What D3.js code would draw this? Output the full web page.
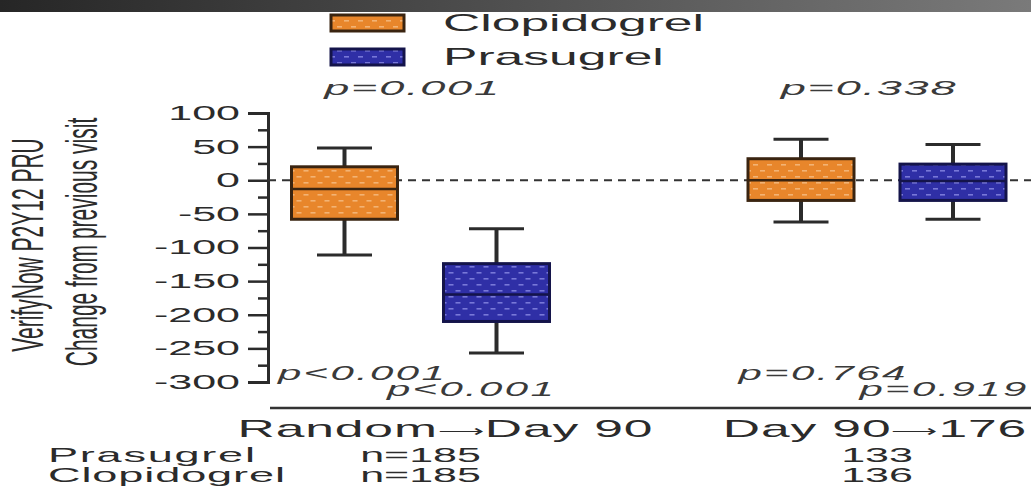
<!DOCTYPE html>
<html>
<head>
<meta charset="utf-8">
<script src="https://cdn.jsdelivr.net/npm/d3@7"></script>
<style>
  html, body { margin: 0; padding: 0; background: #fff; }
  svg { display: block; font-family: 'Liberation Sans', Arial, sans-serif; }
</style>
</head>
<body>
<div id="chart"></div>
<script>
// data
const groups = ['Random\u27F6Day 90', 'Day 90\u27F6176'];
const seriesNames = ['Clopidogrel', 'Prasugrel'];

const clopMin = [-111, -62];
const clopQ1 = [-58, -30];
const clopMedian = [-13, 0];
const clopQ3 = [20, 32];
const clopMax = [48, 61];

const prasMin = [-257, -58];
const prasQ1 = [-210, -30];
const prasMedian = [-170, -1];
const prasQ3 = [-124, 24];
const prasMax = [-72, 53];

const pBetween = ['p=0.001', 'p=0.338'];
const pClopWithin = ['p<0.001', 'p=0.764'];
const pPrasWithin = ['p<0.001', 'p=0.919'];

const nPrasugrel = ['n=185', '133'];
const nClopidogrel = ['n=185', '136'];

const yTicks = [100, 50, 0, -50, -100, -150, -200, -250, -300];
const yTitle = ['VerifyNow P2Y12 PRU', 'Change from previous visit'];

const width = 1031;
const height = 491;
const sx = 2.15; // the picture is stretched sideways
const ink = '#2b2b2b';

const svg = d3.select('#chart')
  .append('svg')
  .attr('width', width)
  .attr('height', height);

const defs = svg.append('defs');

// top bar gradient
const grad = defs.append('linearGradient').attr('id', 'topbar');
grad.append('stop').attr('offset', '0%').attr('stop-color', '#262626');
grad.append('stop').attr('offset', '100%').attr('stop-color', '#7a7a7a');
svg.append('rect')
  .attr('x', 0).attr('y', 0)
  .attr('width', width).attr('height', 12)
  .attr('fill', 'url(#topbar)');

// dotted fills
function dotPattern(id, base, dot) {
  const p = defs.append('pattern')
    .attr('id', id)
    .attr('patternUnits', 'userSpaceOnUse')
    .attr('width', 14).attr('height', 12);
  p.append('rect').attr('width', 14).attr('height', 12).attr('fill', base);
  p.append('rect').attr('x', 1).attr('y', 2).attr('width', 5).attr('height', 1.6).attr('fill', dot);
  p.append('rect').attr('x', 8).attr('y', 8).attr('width', 5).attr('height', 1.6).attr('fill', dot);
}
dotPattern('fillClop', '#e8862b', '#f3b374');
dotPattern('fillPras', '#2f2fa6', '#7878d8');

const fills = { Clopidogrel: 'url(#fillClop)', Prasugrel: 'url(#fillPras)' };
const borders = { Clopidogrel: '#3a2410', Prasugrel: '#14144a' };

// scales
const y = d3.scaleLinear().domain([-300, 100]).range([382, 113]);
const xGroup = d3.scalePoint().domain(groups).range([420.5, 877]);
const xSeries = d3.scalePoint().domain(seriesNames).range([-76, 76]);
const boxW = 106;
const capW = 55;

function stretched(x, yy, str, size, anchor, opts = {}) {
  return svg.append('text')
    .attr('transform', `translate(${x},${yy}) scale(${sx},1)`)
    .attr('text-anchor', anchor)
    .attr('font-size', size)
    .attr('letter-spacing', opts.spacing || 0)
    .attr('font-style', opts.italic ? 'italic' : 'normal')
    .attr('fill', opts.color || ink)
    .text(str);
}

// y axis
const axisX = 268;
const yAxis = svg.append('g')
  .attr('transform', `translate(${axisX},0)`)
  .call(d3.axisLeft(y).tickValues(yTicks).tickSize(20).tickPadding(0).tickFormat(d => String(d)));
yAxis.select('.domain').attr('stroke', ink).attr('stroke-width', 3);
yAxis.selectAll('.tick line').attr('stroke', ink).attr('stroke-width', 2.5);
yAxis.selectAll('.tick text')
  .attr('x', -28 / sx)
  .attr('transform', `scale(${sx},1)`)
  .attr('font-size', 20)
  .attr('font-family', "'Liberation Sans', Arial, sans-serif")
  .attr('fill', ink);

const minor = svg.append('g')
  .attr('transform', `translate(${axisX},0)`)
  .call(d3.axisLeft(y).tickValues(d3.range(-275, 100, 50)).tickSize(10).tickFormat(''));
minor.select('.domain').remove();
minor.selectAll('.tick line').attr('stroke', ink).attr('stroke-width', 2.5);

// y titles
[[27, 245], [81, 242]].forEach(([cx, cy], i) => {
  svg.append('text')
    .attr('transform', `translate(${cx},${cy}) scale(${sx},1) rotate(-90)`)
    .attr('text-anchor', 'middle')
    .attr('dominant-baseline', 'central')
    .attr('font-size', 21)
    .attr('fill', ink)
    .text(yTitle[i]);
});

// zero line
svg.append('line')
  .attr('x1', axisX).attr('x2', width)
  .attr('y1', y(0)).attr('y2', y(0))
  .attr('stroke', '#333')
  .attr('stroke-width', 2)
  .attr('stroke-dasharray', '8,6');

// boxes
const stats = {
  Clopidogrel: { min: clopMin, q1: clopQ1, med: clopMedian, q3: clopQ3, max: clopMax },
  Prasugrel: { min: prasMin, q1: prasQ1, med: prasMedian, q3: prasQ3, max: prasMax }
};

const boxData = [];
groups.forEach((g, gi) => {
  seriesNames.forEach(s => {
    const st = stats[s];
    boxData.push({
      group: g, series: s,
      min: st.min[gi], q1: st.q1[gi], med: st.med[gi], q3: st.q3[gi], max: st.max[gi]
    });
  });
});

const boxes = svg.selectAll('g.box')
  .data(boxData)
  .enter()
  .append('g')
  .attr('class', 'box')
  .attr('transform', d => `translate(${xGroup(d.group) + xSeries(d.series)},0)`);

boxes.append('line')
  .attr('x1', 0).attr('x2', 0)
  .attr('y1', d => y(d.max)).attr('y2', d => y(d.q3))
  .attr('stroke', ink).attr('stroke-width', 4);
boxes.append('line')
  .attr('x1', 0).attr('x2', 0)
  .attr('y1', d => y(d.q1)).attr('y2', d => y(d.min))
  .attr('stroke', ink).attr('stroke-width', 4);
boxes.append('line')
  .attr('x1', -capW / 2).attr('x2', capW / 2)
  .attr('y1', d => y(d.max)).attr('y2', d => y(d.max))
  .attr('stroke', ink).attr('stroke-width', 3);
boxes.append('line')
  .attr('x1', -capW / 2).attr('x2', capW / 2)
  .attr('y1', d => y(d.min)).attr('y2', d => y(d.min))
  .attr('stroke', ink).attr('stroke-width', 3);
boxes.append('rect')
  .attr('x', -boxW / 2)
  .attr('width', boxW)
  .attr('y', d => y(d.q3))
  .attr('height', d => y(d.q1) - y(d.q3))
  .attr('fill', d => fills[d.series])
  .attr('stroke', d => borders[d.series])
  .attr('stroke-width', 3);
boxes.append('line')
  .attr('x1', -boxW / 2).attr('x2', boxW / 2)
  .attr('y1', d => y(d.med)).attr('y2', d => y(d.med))
  .attr('stroke', d => borders[d.series]).attr('stroke-width', 2.5);

// p-values
const pStyle = { italic: true, color: '#3a3a3a', spacing: 0.8 };
const pLow = { italic: true, color: '#3a3a3a', spacing: 1.1 };
groups.forEach((g, gi) => {
  stretched(xGroup(g) - 8, 95, pBetween[gi], 21, 'middle', pStyle);
  stretched(xGroup(g) + xSeries('Clopidogrel') + (gi ? 22 : 18), 380, pClopWithin[gi], 19.5, 'middle', pLow);
  stretched(xGroup(g) + xSeries('Prasugrel') + (gi ? -9 : -25), 396, pPrasWithin[gi], 19.5, 'middle', pLow);
});

// separator
svg.append('line')
  .attr('x1', 270).attr('x2', width)
  .attr('y1', 408).attr('y2', 408)
  .attr('stroke', '#333').attr('stroke-width', 2.5);

// category labels (thin arrow drawn smaller) and counts
groups.forEach((g, gi) => {
  const t = stretched(xGroup(g) + (gi === 0 ? 25 : -2), 437, '', 24, 'middle', { spacing: 0.4 });
  const parts = g.split('\u27F6');
  t.append('tspan').text(parts[0]);
  t.append('tspan').attr('font-size', 15).attr('dy', -1).text('\u27F6');
  t.append('tspan').attr('dy', 1).text(parts[1]);
  stretched(xGroup(g), 462, nPrasugrel[gi], 20, 'middle');
  stretched(xGroup(g), 482, nClopidogrel[gi], 20, 'middle');
});
stretched(48, 462, 'Prasugrel', 21, 'start', { spacing: 0.8 });
stretched(48, 482, 'Clopidogrel', 21, 'start', { spacing: 0.4 });

// legend
seriesNames.forEach((s, i) => {
  const ly = 15 + i * 34;
  svg.append('rect')
    .attr('x', 331).attr('y', ly)
    .attr('width', 73).attr('height', 16)
    .attr('fill', fills[s])
    .attr('stroke', borders[s])
    .attr('stroke-width', 3);
  stretched(443, ly + 16, s, 24, 'start');
});
</script>
</body>
</html>
